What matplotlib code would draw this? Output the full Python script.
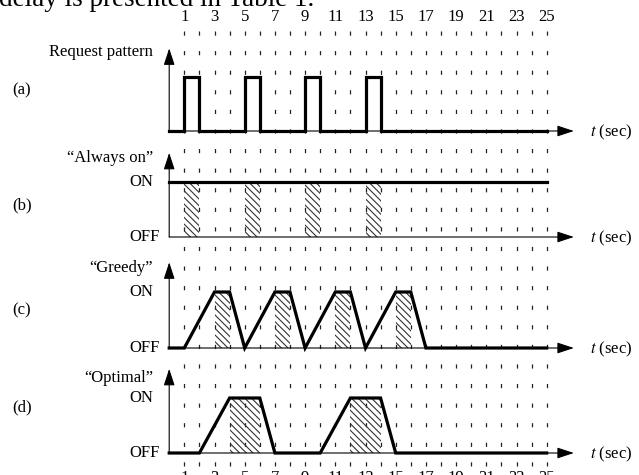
import matplotlib
matplotlib.use("Agg")
import matplotlib.pyplot as plt

plt.rcParams['font.family'] = ['Liberation Serif', 'DejaVu Serif']
plt.rcParams['lines.scale_dashes'] = False
plt.rcParams['hatch.linewidth'] = 0.8
plt.rcParams['hatch.color'] = '#333333'

# ---------------- data ----------------
time_ticks = list(range(1, 26))
time_labels = [str(v) for v in range(1, 26, 2)]
t_end = 25

# (a) request pattern (step, post)
req_t = [0, 1, 2, 5, 6, 9, 10, 13, 14, 25]
req_v = [0, 1, 0, 1, 0, 1, 0, 1, 0, 0]

# (b) always on
always_t = [0, 25]
always_s = [1, 1]
always_hatch = [(1, 2), (5, 6), (9, 10), (13, 14)]

# (c) greedy
greedy_t = [0, 1, 3, 4, 5, 7, 8, 9, 11, 12, 13, 15, 16, 17, 25]
greedy_s = [0, 0, 1, 1, 0, 1, 1, 0, 1, 1, 0, 1, 1, 0, 0]
greedy_hatch = [(3, 4), (7, 8), (11, 12), (15, 16)]

# (d) optimal
optimal_t = [0, 2, 4, 6, 7, 10, 12, 14, 15, 25]
optimal_s = [0, 0, 1, 1, 0, 0, 1, 1, 0, 0]
optimal_hatch = [(4, 6), (12, 14)]

# ---------------- layout (pixels) ----------------
W, H = 639, 475
X0, PXU = 169.2, 15.1           # pixel of t=0, pixels per second
XLIM = (-X0 / PXU, (W - X0) / PXU)
FS = 12

fig = plt.figure(figsize=(W / 100, H / 100), dpi=100)

def fx(px):
    return px / W

def fy(py):
    return 1 - py / H

# grid overlay axes in pixel y-units
g = fig.add_axes([0, 0, 1, 1], facecolor='none')
g.set_xlim(*XLIM)
g.set_ylim(H, 0)
g.axis('off')
g.vlines(time_ticks, 31, 467, colors='#222222', linewidth=0.9,
         linestyles=[(0, (3.0, 11.1))])
for lab in time_labels:
    v = int(lab)
    g.text(v, 17, lab, ha='center', va='center', fontsize=FS)
    g.text(v, 470, lab, ha='center', va='top', fontsize=FS)

fig.text(fx(-1), fy(6.5), 'delay is presented in Table 1.', fontsize=19.5,
         ha='left', va='baseline')

panels = [
    dict(off=131, on=77, letter='(a)', ly=90, name='Request pattern', ny=52, onoff=False),
    dict(off=237, on=182, letter='(b)', ly=205, name='\u201cAlways on\u201d', ny=158, onoff=True),
    dict(off=348, on=292, letter='(c)', ly=310, name='\u201cGreedy\u201d', ny=268, onoff=True),
    dict(off=453, on=398, letter='(d)', ly=407, name='\u201cOptimal\u201d', ny=378, onoff=True),
]

axes = []
for p in panels:
    unit = p['off'] - p['on']
    ax = fig.add_axes([0, 0, 1, 1], facecolor='none')
    ax.set_xlim(*XLIM)
    ax.set_ylim((p['off'] - H) / unit, p['off'] / unit)
    ax.axis('off')
    # axes arrows
    ax.annotate('', xy=(26.8, 0), xytext=(0, 0),
                arrowprops=dict(arrowstyle='-|>,head_length=0.85,head_width=0.28',
                                lw=0.8, color='k', mutation_scale=12, shrinkA=0, shrinkB=0))
    ax.annotate('', xy=(0, 1.53), xytext=(0, 0),
                arrowprops=dict(arrowstyle='-|>,head_length=0.85,head_width=0.28',
                                lw=0.8, color='k', mutation_scale=12, shrinkA=0, shrinkB=0))
    ax.text(27.9, 0.0 - 1.5 / unit, r'$t$ (sec)', ha='left', va='center', fontsize=FS,
            math_fontfamily='stix')
    fig.text(fx(12.5), fy(p['ly']), p['letter'], ha='left', va='center', fontsize=FS)
    fig.text(fx(153), fy(p['ny']), p['name'], ha='right', va='center', fontsize=FS)
    if p['onoff']:
        fig.text(fx(129.5), fy(p['on']), 'ON', ha='left', va='center', fontsize=FS)
        fig.text(fx(129.5), fy(p['off']), 'OFF', ha='left', va='center', fontsize=FS)
    axes.append(ax)

def hatch(ax, intervals):
    for a, b in intervals:
        ax.fill_between([a, b], 0, 1, facecolor='none', edgecolor='#333333',
                        hatch='\\\\\\\\\\', linewidth=0)

LW = 2.3
axes[0].step(req_t, req_v, where='post', color='k', lw=LW, solid_joinstyle='miter')

hatch(axes[1], always_hatch)
axes[1].plot(always_t, always_s, color='k', lw=LW)

hatch(axes[2], greedy_hatch)
axes[2].plot(greedy_t, greedy_s, color='k', lw=LW, solid_joinstyle='miter')

hatch(axes[3], optimal_hatch)
axes[3].plot(optimal_t, optimal_s, color='k', lw=LW, solid_joinstyle='miter')

fig.savefig('out.png', dpi=100)
